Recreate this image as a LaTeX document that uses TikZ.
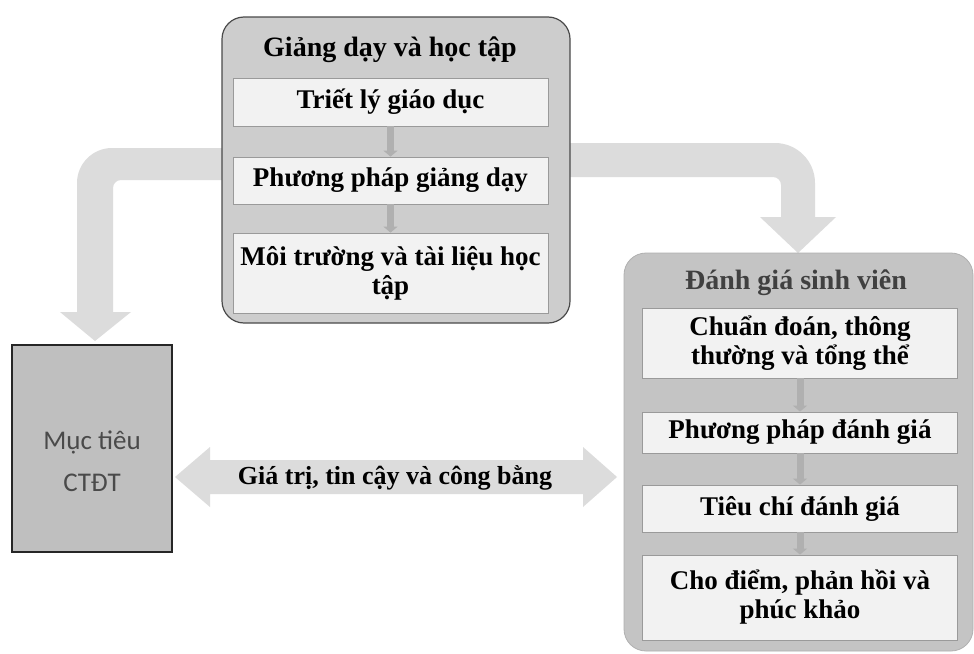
\documentclass[tikz,border=0pt]{standalone}
\usepackage{fontspec}
\setmainfont{Liberation Serif}
\newfontfamily\carl{Carlito}
\usetikzlibrary{arrows.meta}
\definecolor{arrowc}{HTML}{DCDCDC}
\definecolor{topfill}{HTML}{CDCDCD}
\definecolor{rightfill}{HTML}{C4C4C4}
\definecolor{leftfill}{HTML}{BFBFBF}
\definecolor{innerfill}{HTML}{F2F2F2}
\definecolor{innerline}{HTML}{9A9A9A}
\definecolor{darkline}{HTML}{4A4A4A}
\definecolor{smallarr}{HTML}{B0B0B0}
\definecolor{sanstext}{HTML}{4A4A4A}
\tikzset{
  inbox/.style={rectangle, draw=innerline, fill=innerfill, line width=0.8pt,
    inner sep=0pt, align=center, minimum width=315pt},
  txt/.style={font=\bfseries\fontsize{27}{29}\selectfont},
  titletxt/.style={font=\bfseries\fontsize{28}{30}\selectfont},
  downarr/.style={draw=smallarr, line width=7pt, -{Triangle[width=14pt,length=6pt]}},
}
\begin{document}
\begin{tikzpicture}[x=1pt,y=-1pt]
\useasboundingbox[fill=white] (0,0) rectangle (974,653);

% ---- big bent arrow to the left ----
\fill[arrowc] (320,148) -- (112,148)
  .. controls (92.7,148) and (77,163.7) .. (77,183)
  -- (77,312) -- (60,312) -- (95,341) -- (131,312) -- (113,312) -- (113,188)
  .. controls (113,183.6) and (116.6,180) .. (121,180)
  -- (320,180) -- cycle;

% ---- big bent arrow to the right ----
\fill[arrowc] (480,143) -- (775,143)
  .. controls (797,143) and (815,161) .. (815,183)
  -- (815,217) -- (836,217) -- (798,253) -- (760,217) -- (781,217) -- (781,185)
  .. controls (781,180.6) and (777.4,177) .. (773,177)
  -- (480,177) -- cycle;

% ---- bottom double arrow ----
\coordinate (dl) at (175,477);
\coordinate (dr) at (617,477);
\fill[arrowc] (dl) -- (210,447) -- (210,460) -- (583,460) -- (583,447) -- (dr)
  -- (583,507) -- (583,494) -- (210,494) -- (210,507) -- cycle;
\node[font=\bfseries\fontsize{26}{28}\selectfont] (val) at (395,478) {Giá trị, tin cậy và công bằng};

% ---- top group ----
\node[rectangle, rounded corners=22pt, draw=darkline, fill=topfill, line width=1.2pt,
  minimum width=348pt, minimum height=306pt, inner sep=0pt] (top) at (396,170) {};
\node[titletxt] (toptitle) at (390,50) {Giảng dạy và học tập};
\node[inbox, minimum height=48pt, txt] (a1) at (390.5,102) {Triết lý giáo dục};
\node[inbox, minimum height=47pt, txt] (a2) at (390.5,180.5) {Phương pháp giảng dạy};
\node[inbox, minimum height=80pt, txt] (a3) at (390.5,273) {Môi trường và tài liệu học\\tập};
\draw[downarr] (a1.south) -- (a2.north);
\draw[downarr] (a2.south) -- (a3.north);

% ---- right group ----
\node[rectangle, rounded corners=22pt, draw=rightfill!90!black, fill=rightfill, line width=0.8pt,
  minimum width=349pt, minimum height=398pt, inner sep=0pt] (right) at (798.5,452) {};
\node[titletxt, text=black!75] (righttitle) at (796,283) {Đánh giá sinh viên};
\node[inbox, minimum height=70pt, txt] (b1) at (800,343) {Chuẩn đoán, thông\\thường và tổng thể};
\node[inbox, minimum height=41pt, txt] (b2) at (800,432.5) {Phương pháp đánh giá};
\node[inbox, minimum height=47pt, txt] (b3) at (800,508.5) {Tiêu chí đánh giá};
\node[inbox, minimum height=85pt, txt] (b4) at (800,597.5) {Cho điểm, phản hồi và\\phúc khảo};
\draw[downarr] (b1.south) -- (b2.north);
\draw[downarr] (b2.south) -- (b3.north);
\draw[downarr] (b3.south) -- (b4.north);

% ---- left box ----
\node[rectangle, draw=black!85, fill=leftfill, line width=1.2pt,
  minimum width=160pt, minimum height=207pt, inner sep=0pt] (goal) at (92,448.5) {};
\node[align=center, font=\carl\fontsize{27}{42}\selectfont, text=sanstext] (goaltxt) at (92,461) {Mục tiêu\\CTĐT};
\end{tikzpicture}
\end{document}
